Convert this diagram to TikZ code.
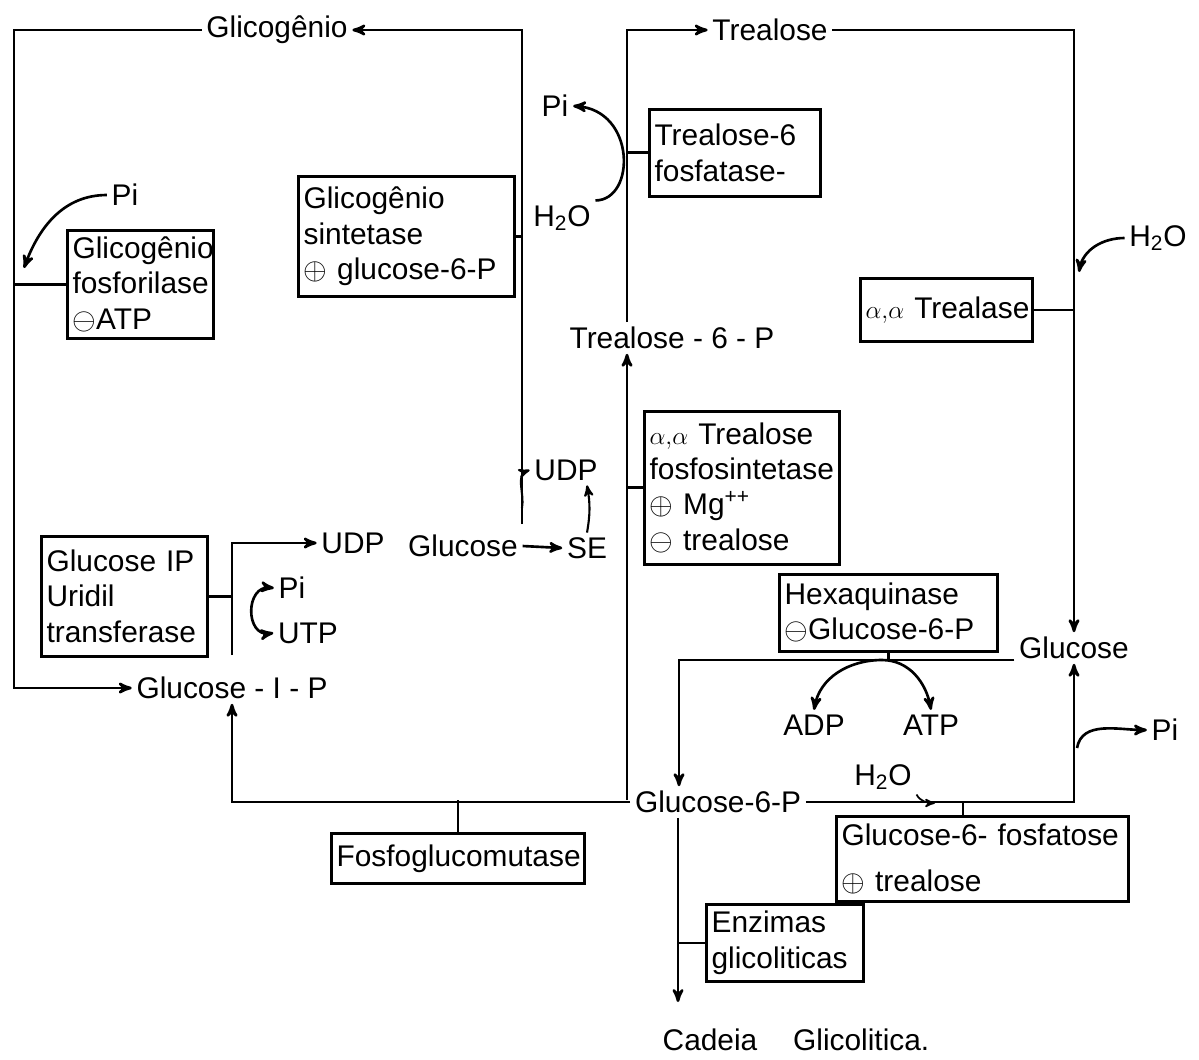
\documentclass[tikz,border=0pt]{standalone}
\usepackage{fontspec}
\setmainfont{Liberation Sans}
\usepackage{tikz}
\usetikzlibrary{arrows}
\tikzset{enzima/.style={draw,anchor=north west,align=left,
                        inner xsep=3pt,inner ysep=3pt}}
\newcommand{\ativ}{$\oplus$}
\newcommand{\inib}{$\ominus$}
\newcommand{\alal}{{\fontsize{14}{16}\selectfont$\alpha,\!\alpha$}}

\begin{document}
\begin{tikzpicture}[x=0.02cm,y=-0.02cm,line width=1.5pt,>=stealth',
                    font=\fontsize{17}{20}\selectfont]
    \tikzstyle{metab}=[inner sep=2pt]
    \useasboundingbox (0,0) rectangle (1199,1059);

    % Metabolites
    \foreach \name/\x/\y/\txt in {glicogenio/277/30/{Glicogênio},
        trealose/770/30/{Trealose}, t6p/672/338/{Trealose - 6 - P},
        glcR/1074/648/{Glucose}, g6p/718/802/{Glucose-6-P},
        g1p/232/688/{Glucose - I - P}, udpA/353/543/{UDP},
        piB/292/588/{Pi}, utp/308/633/{UTP},
        glcU/463/546/{Glucose}, se/587/548/{SE}, udpB/566/470/{UDP},
        piT/555/106/{Pi}, h2oT/562/218/{H\textsubscript{2}O},
        piL/125/195/{Pi}, h2oR/1158/238/{H\textsubscript{2}O},
        adp/814/725/{ADP}, atp/931/725/{ATP}, piR/1165/730/{Pi},
        h2oB/883/777/{H\textsubscript{2}O}}
        \node[metab] (\name) at (\x,\y) {\txt};
    \node[metab] (cadeia) at (796,1040) {Cadeia\hspace{1.2em}Glicolitica.};

    % Enzymes
    \node[enzima,text width=2.71cm,minimum height=2.16cm] (fosforilase) at (66,229)
        {Glicogênio\\fosforilase\\\inib ATP};
    \node[enzima,text width=4.11cm,minimum height=2.4cm] (sintetase) at (297,175)
        {Glicogênio\\sintetase\\ \ativ\ glucose-6-P};
    \node[enzima,text width=3.21cm,minimum height=1.74cm] (fosfatase) at (648,108)
        {Trealose-6\\fosfatase-};
    \node[enzima,text width=3.23cm,minimum height=1.26cm] (trealase) at (859,277)
        {\mbox{\alal\ Trealase}};
    \node[enzima,text width=3.69cm,minimum height=3.06cm] (fosfosint) at (643,410)
        {\alal\ Trealose\\fosfosintetase\\ \ativ\ Mg\textsuperscript{++}\\ \inib\ trealose};
    \node[enzima,text width=3.11cm,minimum height=2.4cm] (uridil) at (40,535)
        {Glucose IP\\Uridil\\transferase};
    \node[enzima,text width=4.15cm,minimum height=1.54cm] (hexa) at (778,573)
        {Hexaquinase\\\inib Glucose-6-P};
    \node[enzima,text width=4.85cm,minimum height=1.0cm] (mutase) at (330,832)
        {Fosfoglucomutase};
    \node[enzima,text width=5.63cm,minimum height=1.7cm] (g6fos) at (835,815)
        {Glucose-6- fosfatose\\[6pt]\ativ\ trealose};
    \node[enzima,text width=2.93cm,minimum height=1.54cm] (enzimas) at (705,903)
        {Enzimas\\glicoliticas};

    % Junction points
    \coordinate (cTL) at (14,30);
    \coordinate (cBL) at (14,688);
    \coordinate (cBM) at (522,524);
    \coordinate (cHk) at (522,508);
    \coordinate (cUbot) at (232,655);
    \coordinate (cG6) at (627,800);
    \coordinate (cHx) at (882,660);
    \coordinate (cG6b) at (679,660);
    \coordinate (cGf) at (963,803);
    \coordinate (cPi) at (1077,748);
    \coordinate (cH2B) at (935,803);
    \coordinate (cCdBot) at (678,1002);
    \coordinate (pL) at (24,268);
    \coordinate (cH2R) at (1079,272);

    % Glycogen branch
    \draw[->] (glicogenio.west) -- (cTL) -- (cBL) -- (g1p.west);
    \draw (fosforilase.west) -- (fosforilase.west -| cTL);
    \draw[->] (piL.west) to[out=180,in=70] (pL);
    \draw[->] (cBM) |- (glicogenio.east);
    \draw (sintetase.east) -- (sintetase.east -| cBM);
    \draw[->,line width=1.2pt] (cHk) to[out=80,in=200] (udpB.west);
    \draw[->] (glcU.east) -- (se.west);
    \draw[->,line width=1.2pt] (se.north) to[bend right=10] (se.north |- udpB.south);

    % UDP-glucose formation
    \draw[->] (cUbot) |- (udpA.west);
    \draw (uridil.east) -- (uridil.east -| cUbot);
    \draw[<->] (piB.west) .. controls (245,585) and (245,637) .. (utp.west);

    % Glucose-6-P to the left
    \draw[->] (g6p.west) -| (g1p.south);
    \draw (mutase.north) -- (mutase.north |- cG6);
    \draw[->] (cG6) -- (cG6 |- t6p.south);
    \draw (fosfosint.west) -- (fosfosint.west -| cG6);

    % Trehalose branch
    \draw[->] (t6p.north -| cG6) |- (trealose.west);
    \draw (fosfatase.west) -- (fosfatase.west -| cG6);
    \draw[->] (h2oT.north east) .. controls (636,200) and (636,110) .. (piT.east);
    \draw[->] (trealose.east) -| (glcR.north);
    \draw (trealase.east) -- (trealase.east -| glcR.north);
    \draw[->] (h2oR.west) to[out=180,in=80] (cH2R);

    % Hexokinase
    \draw[->] (glcR.west |- cHx) -| (cG6b |- g6p.north);
    \draw (hexa.south) -- (hexa.south |- cHx);
    \draw[->] (cHx) to[out=180,in=80] (adp.north);
    \draw[->] (cHx) to[out=0,in=100] (atp.north);

    % Glucose-6-phosphatase
    \draw[->] (g6p.east) -| (glcR.south);
    \draw (cGf) -- (cGf |- g6fos.north);
    \draw[->] (cPi) to[out=80,in=180] (piR.west);
    \draw[->,line width=1pt] (h2oB.south east) to[out=-60,in=180] (cH2B);

    % Glycolysis
    \draw[->] (g6p.south -| cCdBot) -- (cCdBot);
    \draw (enzimas.west) -- (enzimas.west -| cCdBot);
\end{tikzpicture}
\end{document}
